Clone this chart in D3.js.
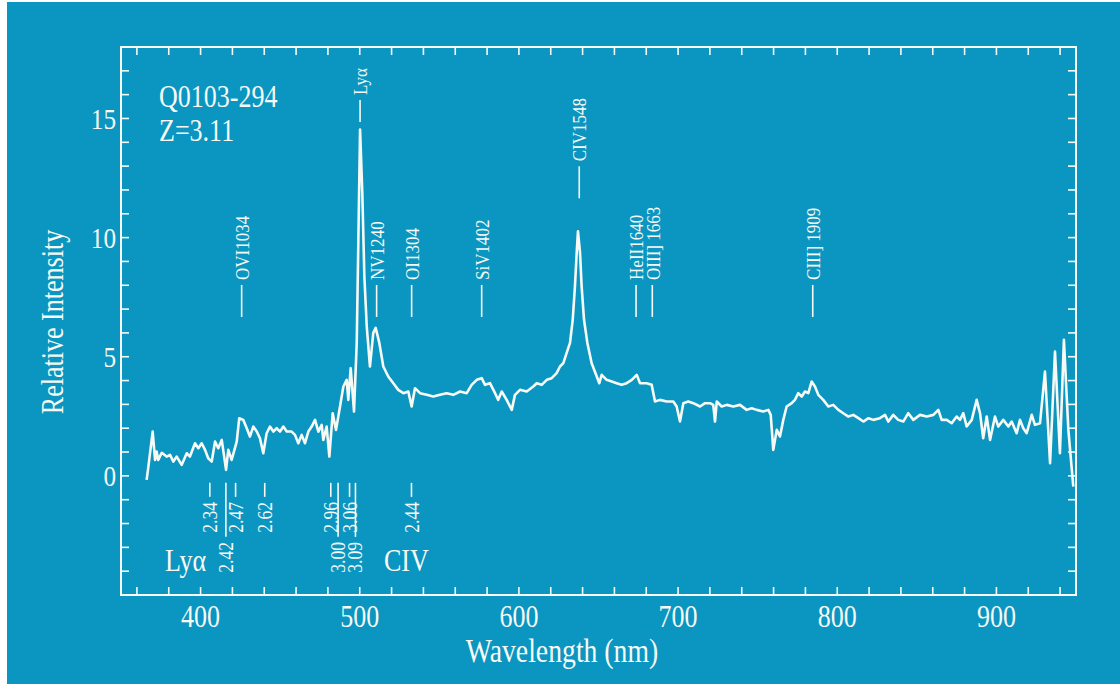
<!DOCTYPE html>
<html><head><meta charset="utf-8">
<script src="https://cdn.jsdelivr.net/npm/d3@7/dist/d3.min.js"></script>
<style>
html,body{margin:0;padding:0;background:#ffffff;}
svg{display:block;}
text{font-family:"Liberation Serif","Times New Roman",serif;fill:#f7faf4;}
</style></head>
<body>
<svg id="chart" width="1120" height="684"></svg>
<script>
// ---- data ----
const wavelength = [366.1,367.2,369.9,371.4,372.4,373.4,375.6,378.7,380.8,382.9,385.0,388.1,391.3,393.3,396.5,398.6,400.7,402.8,404.8,407.0,409.1,411.1,413.3,416.0,417.4,419.5,422.7,424.3,426.8,429.0,431.0,433.1,435.3,437.3,439.4,441.5,443.6,445.7,447.8,449.9,452.0,454.1,457.2,459.3,461.4,463.5,465.6,467.7,469.8,471.9,474.0,476.1,477.1,479.2,480.9,483.0,485.1,487.6,489.7,491.8,492.8,494.3,496.4,498.1,499.1,500.2,501.6,502.9,504.4,506.4,508.5,510.0,512.3,514.8,517.9,521.1,524.2,527.4,530.5,532.6,534.7,537.9,542.1,546.2,550.4,554.6,558.8,563.0,567.2,570.3,573.5,576.6,578.7,581.8,585.0,587.0,589.2,592.3,595.5,597.5,600.7,604.9,609.0,611.2,614.3,617.5,620.6,623.7,625.8,627.9,630.0,632.1,633.8,635.2,636.3,637.1,638.4,639.4,640.9,643.0,645.7,648.9,650.5,652.0,655.1,658.3,661.4,664.6,667.7,670.9,674.0,676.1,680.3,683.4,685.5,688.6,692.8,697.0,699.1,701.2,703.3,706.4,709.6,713.8,716.9,720.1,722.1,723.2,724.3,727.4,730.6,734.7,738.9,743.1,746.2,749.4,753.5,756.7,758.2,759.8,762.0,764.0,766.1,768.2,771.4,773.4,775.5,777.7,779.7,781.8,783.9,786.0,788.1,791.2,794.4,797.5,800.7,803.8,807.0,810.1,813.3,816.4,819.6,822.6,826.8,830.0,832.1,835.2,838.3,841.5,844.6,847.8,852.0,856.2,860.4,863.5,865.6,868.8,871.9,875.0,877.1,879.2,881.3,884.5,887.6,889.7,891.7,893.9,896.0,899.1,901.2,904.3,907.5,909.6,912.7,914.8,916.9,919.0,922.2,924.2,927.4,930.5,933.7,936.8,939.9,942.4,945.2,948.3];
const intensity = [-0.17,0.39,1.86,0.67,1.02,0.67,0.97,0.81,0.88,0.60,0.81,0.46,0.95,0.81,1.37,1.16,1.37,1.09,0.74,0.60,1.44,1.16,1.51,0.25,1.09,0.67,1.44,2.42,2.35,2.00,1.65,2.07,1.86,1.58,0.95,1.79,2.07,1.86,2.00,1.86,2.07,1.86,1.86,1.72,1.37,1.72,1.37,1.86,2.07,2.35,1.86,2.14,1.51,2.07,0.81,2.63,1.93,2.91,3.75,4.03,3.19,4.52,2.70,5.57,9.78,14.54,11.88,8.37,6.27,4.59,6.00,6.21,5.58,4.59,4.17,3.89,3.61,3.47,3.54,2.91,3.68,3.47,3.40,3.33,3.40,3.47,3.40,3.54,3.47,3.82,4.03,4.10,3.82,3.89,3.47,3.19,3.54,3.19,2.77,3.40,3.61,3.54,3.75,3.89,3.82,4.03,4.10,4.31,4.59,4.73,5.16,5.58,6.55,7.95,9.36,10.26,9.36,7.95,6.55,5.58,4.73,4.17,3.89,4.24,4.03,3.96,3.89,3.82,3.89,4.03,4.24,3.89,3.89,3.82,3.12,3.19,3.12,3.12,2.91,2.28,3.05,3.12,3.05,2.91,3.05,3.05,2.98,2.28,3.12,2.91,2.98,2.91,2.98,2.77,2.84,2.77,2.70,2.77,2.56,1.09,1.93,1.65,2.35,2.91,3.05,3.19,3.47,3.33,3.54,3.47,3.96,3.75,3.40,3.19,2.91,2.98,2.77,2.63,2.49,2.56,2.42,2.28,2.42,2.35,2.42,2.56,2.28,2.56,2.35,2.28,2.63,2.35,2.56,2.49,2.56,2.77,2.35,2.35,2.21,2.49,2.35,2.63,2.07,2.35,3.19,2.63,1.58,2.49,1.51,2.49,2.07,2.35,2.07,2.28,1.79,2.35,2.00,1.79,2.56,2.14,2.21,4.38,0.53,5.22,0.95,5.71,1.93,-0.45];

// emission line identifications (observed wavelength, nm)
const emissionNames = ["Lyα","OVI1034","NV1240","OI1304","SiV1402","CIV1548","HeII1640","OIII] 1663","CIII] 1909"];
const emissionWave  = [500.2,425.8,510.6,532.6,576.6,637.9,673.6,683.8,784.6];
const emissionBase  = [14.85,6.67,6.67,6.67,6.67,11.65,6.67,6.67,6.67];

// absorption systems (redshift labels)
const absLabels = ["2.34","2.42","2.47","2.62","2.96","3.00","3.06","3.09","2.44"];
const absWave   = [405.8,415.9,422.0,440.3,481.8,486.4,493.6,497.3,532.5];
const absRow    = [0,1,0,0,0,1,0,1,0];

const xTickLabels = [400,500,600,700,800,900];
const yTickLabels = [0,5,10,15];

// ---- drawing ----
const W = 1120, H = 684;
const M = {left:121, right:1076, top:47, bottom:595};
const FG = "#f7faf4";
const svg = d3.select("#chart");

svg.append("rect").attr("x",7).attr("y",2).attr("width",W-7).attr("height",H-2).attr("fill","#0b95c1");

const x = d3.scaleLinear().domain([350,950]).range([M.left,M.right]);
const y = d3.scaleLinear().domain([-5,18]).range([M.bottom,M.top]);

const SX = 0.84; // horizontal condensing of the serif face
function ctext(g, str, px, py, size, opts={}) {
  const rot = opts.rot || 0;
  const t = g.append("text")
    .attr("transform", `translate(${px},${py}) rotate(${rot}) scale(${opts.sx||SX},1)`)
    .attr("font-size", size)
    .attr("text-anchor", opts.anchor || "start")
    .text(str);
  if (opts.baseline) t.attr("dominant-baseline", opts.baseline);
  return t;
}

// ticks (inside, all four sides)
const tickLen = 8;
const xt = d3.range(360, 950, 20);
const yt = d3.range(-4, 18, 1);
const tg = svg.append("g").attr("stroke",FG).attr("stroke-width",1.6);
xt.forEach(v => {
  tg.append("line").attr("x1",x(v)).attr("x2",x(v)).attr("y1",M.bottom).attr("y2",M.bottom-tickLen);
  tg.append("line").attr("x1",x(v)).attr("x2",x(v)).attr("y1",M.top).attr("y2",M.top+tickLen);
});
yt.forEach(v => {
  tg.append("line").attr("y1",y(v)).attr("y2",y(v)).attr("x1",M.left).attr("x2",M.left+tickLen);
  tg.append("line").attr("y1",y(v)).attr("y2",y(v)).attr("x1",M.right).attr("x2",M.right-tickLen);
});

// frame
svg.append("rect").attr("x",M.left).attr("y",M.top)
  .attr("width",M.right-M.left).attr("height",M.bottom-M.top)
  .attr("fill","none").attr("stroke",FG).attr("stroke-width",2);

// tick labels
const lab = svg.append("g");
xTickLabels.forEach(v => ctext(lab, String(v), x(v), 627, 31, {anchor:"middle"}));
yTickLabels.forEach(v => ctext(lab, String(v), 116, y(v), 30, {anchor:"end", baseline:"central"}));

// axis titles
ctext(lab, "Wavelength (nm)", 562, 662, 33, {anchor:"middle"});
ctext(lab, "Relative Intensity", 52, 322, 31, {anchor:"middle", rot:-90, baseline:"central"});

// object name
ctext(lab, "Q0103-294", 159, 107, 31);
ctext(lab, "Z=3.11", 159, 141, 31);

// spectrum
const pts = wavelength.map((w,i)=>[w, intensity[i]]);
svg.append("path").datum(pts)
  .attr("fill","none").attr("stroke",FG).attr("stroke-width",2.6)
  .attr("stroke-linejoin","round")
  .attr("d", d3.line().x(d=>x(d[0])).y(d=>y(d[1])));

// emission labels
const eg = svg.append("g");
emissionNames.forEach((name,i) => {
  const px = x(emissionWave[i]);
  const yb = y(emissionBase[i]);
  const len = i === 0 ? 22 : 32;
  eg.append("line").attr("x1",px).attr("x2",px).attr("y1",yb).attr("y2",yb-len)
    .attr("stroke",FG).attr("stroke-width",1.6);
  ctext(eg, name, px + 1, yb-len-5, 18.5, {rot:-90, baseline:"central", sx:0.92});
});

// absorption labels
const ag = svg.append("g");
absLabels.forEach((s,i) => {
  const px = x(absWave[i]);
  const top = y(0) + 7;
  const len = absRow[i] ? 54 : 14;
  ag.append("line").attr("x1",px).attr("x2",px).attr("y1",top).attr("y2",top+len)
    .attr("stroke",FG).attr("stroke-width",1.6);
  ctext(ag, s, px, top+len+5, 21, {rot:-90, anchor:"end", baseline:"central"});
});
ctext(ag, "Lyα", 165, 571, 31);
ctext(ag, "CIV", 384, 571, 31);
</script>
</body></html>
